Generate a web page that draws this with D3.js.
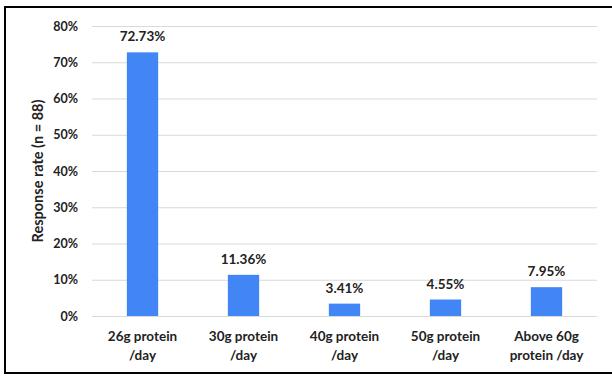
<!DOCTYPE html>
<html><head><meta charset="utf-8">
<script src="https://cdn.jsdelivr.net/npm/d3@7"></script>
<style>html,body{margin:0;padding:0;background:#fff;}</style>
</head><body>
<svg id="chart" width="612" height="376"></svg>
<script>
const categories = ["26g protein /day", "30g protein /day", "40g protein /day", "50g protein /day", "Above 60g protein /day"];
const categoryLines = [["26g protein", "/day"], ["30g protein", "/day"], ["40g protein", "/day"], ["50g protein", "/day"], ["Above 60g", "protein /day"]];
const values = [72.73, 11.36, 3.41, 4.55, 7.95];
const yTicks = [0, 10, 20, 30, 40, 50, 60, 70, 80];
const yTitle = "Response rate (n = 88)";

(function () {
const svg = d3.select("#chart");
const font = "Lato, 'Open Sans', sans-serif";
const mLeft = 92, mRight = 597, mTop = 26, mBottom = 316;

svg.append("rect").attr("x", 5).attr("y", 7).attr("width", 620).attr("height", 366)
  .attr("fill", "#fff").attr("stroke", "#000").attr("stroke-width", 2);

const x = d3.scaleBand().domain(categories).range([mLeft, mRight]).paddingInner(0.69).paddingOuter(0.345);
const y = d3.scaleLinear().domain([0, 80]).range([mBottom, mTop]);

const yAxis = svg.append("g").attr("transform", `translate(${mLeft},0)`)
  .call(d3.axisLeft(y).tickValues(yTicks).tickFormat(d => d + "%").tickSize(-(mRight - mLeft)).tickPadding(14));
yAxis.select(".domain").remove();
yAxis.selectAll(".tick line").attr("stroke", "#d9d9d9").attr("stroke-width", 1);
yAxis.selectAll(".tick text").attr("font-family", font).attr("font-weight", "bold")
  .attr("font-size", 12.5).attr("fill", "#222");

svg.selectAll("rect.bar").data(values).join("rect").attr("class", "bar")
  .attr("x", (d, i) => x(categories[i])).attr("width", x.bandwidth())
  .attr("y", d => y(d)).attr("height", d => y(0) - y(d)).attr("fill", "#4285f4");

svg.selectAll("text.val").data(values).join("text").attr("class", "val")
  .attr("x", (d, i) => x(categories[i]) + x.bandwidth() / 2).attr("y", d => y(d) - 11)
  .attr("text-anchor", "middle").attr("font-family", font).attr("font-weight", "bold")
  .attr("font-size", 13.5).attr("fill", "#222").text(d => d.toFixed(2) + "%");

const xl = svg.selectAll("text.xl").data(categoryLines).join("text").attr("class", "xl")
  .attr("text-anchor", "middle").attr("font-family", font).attr("font-weight", "bold")
  .attr("font-size", 13.5).attr("fill", "#222")
  .attr("transform", (d, i) => `translate(${x(categories[i]) + x.bandwidth() / 2},341)`);
xl.selectAll("tspan").data(d => d).join("tspan").attr("x", 0).attr("dy", (d, j) => j === 0 ? 0 : 18.5).text(d => d);

svg.append("text").attr("transform", "translate(43,171) rotate(-90)")
  .attr("text-anchor", "middle").attr("font-family", font).attr("font-weight", "bold")
  .attr("font-size", 14.5).attr("fill", "#222").text(yTitle);
})();
</script>
</body></html>
